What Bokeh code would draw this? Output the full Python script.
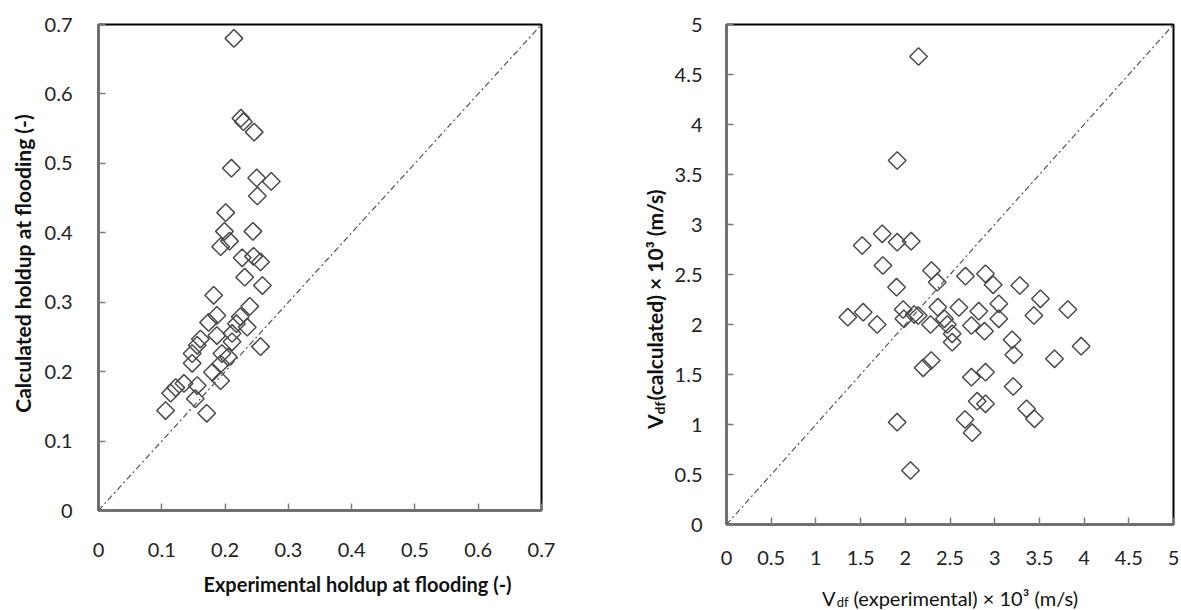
import numpy as np
from bokeh.plotting import figure
from bokeh.models import Range1d, Label, FixedTicker, Slope
from bokeh.layouts import row, column
from bokeh.embed import file_html
from bokeh.resources import INLINE

# ---------------- data ----------------
hold_exp = [0.214, 0.225, 0.229, 0.246, 0.210, 0.250, 0.273, 0.251, 0.201, 0.244,
            0.199, 0.207, 0.193, 0.227, 0.245, 0.256, 0.231, 0.259, 0.182, 0.239,
            0.187, 0.224, 0.174, 0.218, 0.235, 0.187, 0.211, 0.161, 0.256, 0.211,
            0.156, 0.148, 0.148, 0.195, 0.205, 0.193, 0.180, 0.193, 0.135, 0.156,
            0.122, 0.114, 0.153, 0.106, 0.171]
hold_calc = [0.680, 0.565, 0.560, 0.545, 0.493, 0.479, 0.474, 0.453, 0.429, 0.402,
             0.402, 0.388, 0.380, 0.364, 0.366, 0.358, 0.336, 0.324, 0.310, 0.294,
             0.281, 0.279, 0.271, 0.269, 0.264, 0.252, 0.255, 0.247, 0.236, 0.243,
             0.238, 0.226, 0.212, 0.226, 0.221, 0.211, 0.199, 0.187, 0.183, 0.180,
             0.177, 0.169, 0.161, 0.144, 0.140]

vdf_exp = [2.148, 1.909, 1.518, 1.742, 1.909, 2.066, 1.749, 1.902, 2.293, 2.357,
           2.673, 2.897, 2.983, 3.281, 3.512, 3.438, 3.818, 1.357, 1.529, 1.685,
           1.976, 1.984, 2.144, 2.100, 2.282, 2.364, 2.600, 2.438, 2.470, 2.524,
           2.524, 2.740, 2.822, 3.046, 2.886, 3.046, 3.195, 3.214, 3.669, 3.967,
           2.200, 2.290, 2.740, 2.897, 3.207, 2.804, 2.897, 3.356, 3.445, 1.909,
           2.668, 2.748, 2.058]
vdf_calc = [4.680, 3.640, 2.790, 2.907, 2.823, 2.833, 2.590, 2.373, 2.540, 2.423,
            2.483, 2.507, 2.397, 2.390, 2.257, 2.090, 2.150, 2.073, 2.123, 2.000,
            2.150, 2.057, 2.090, 2.100, 2.000, 2.173, 2.170, 2.057, 2.000, 1.907,
            1.823, 1.990, 2.133, 2.207, 1.933, 2.057, 1.847, 1.697, 1.657, 1.783,
            1.567, 1.640, 1.473, 1.523, 1.380, 1.233, 1.207, 1.157, 1.057, 1.023,
            1.050, 0.918, 0.540]

hold_ticks = [0, 0.1, 0.2, 0.3, 0.4, 0.5, 0.6, 0.7]
hold_tick_labels = ["0", "0.1", "0.2", "0.3", "0.4", "0.5", "0.6", "0.7"]
vdf_ticks = [0, 0.5, 1, 1.5, 2, 2.5, 3, 3.5, 4, 4.5, 5]
vdf_tick_labels = ["0", "0.5", "1", "1.5", "2", "2.5", "3", "3.5", "4", "4.5", "5"]

left_x_title = "Experimental holdup at flooding (-)"
left_y_title = "Calculated holdup at flooding (-)"
right_x_title = ["V", "df", "(experimental) \u00d7 10\u00b3 (m/s)"]
right_y_title = ["V", "df", "(calculated) \u00d7 10\u00b3 (m/s)"]

FONT = "Lato"
TICK_COLOR = "#7a7a7a"
MARK_COLOR = "#4a4a4a"
TXT = "#111111"


def style(p, ticks, labels, standoff_x, standoff_y):
    p.grid.visible = False
    p.outline_line_color = "black"
    p.outline_line_width = 2
    p.background_fill_color = "white"
    p.border_fill_color = "white"
    for ax, so in ((p.xaxis[0], standoff_x), (p.yaxis[0], standoff_y)):
        ax.ticker = FixedTicker(ticks=ticks)
        ax.major_label_overrides = {t: l for t, l in zip(ticks, labels)}
        ax.axis_line_color = "#6a6a6a"
        ax.axis_line_width = 2
        ax.major_tick_line_color = TICK_COLOR
        ax.major_tick_line_width = 1.5
        ax.major_tick_in = 7
        ax.major_tick_out = 0
        ax.minor_tick_line_color = None
        ax.major_label_text_font = FONT
        ax.major_label_text_font_size = "20px"
        ax.major_label_text_color = "#222222"
        ax.major_label_standoff = so


def strip(w, h, x0, x1, y_bottom, y_top, top=0, bottom=0):
    """Blank figure whose data coordinates are page pixels (y measured from the top)."""
    f = figure(width=w, height=h, x_range=Range1d(x0, x1), y_range=Range1d(y_bottom, y_top),
               x_axis_type=None, y_axis_type=None, min_border=0,
               min_border_top=top, min_border_bottom=bottom,
               output_backend="svg", toolbar_location=None)
    f.outline_line_color = None
    f.background_fill_color = "white"
    f.border_fill_color = "white"
    return f


def lab(f, x, y, text, size, bold=False, angle=0.0, align="center", baseline="middle"):
    f.add_layout(Label(x=x, y=y, text=text, angle=angle,
                       text_font=FONT, text_font_size=size,
                       text_font_style="bold" if bold else "normal", text_color=TXT,
                       text_align=align, text_baseline=baseline))


# ---------------- left panel (page x 0..590) ----------------
p1 = figure(frame_width=443, frame_height=486, min_border_left=58, min_border_right=49,
            min_border_top=24, min_border_bottom=56,
            x_range=Range1d(0, 0.7), y_range=Range1d(0, 0.7),
            output_backend="svg", toolbar_location=None)
style(p1, hold_ticks, hold_tick_labels, 32, 26)
p1.add_layout(Slope(gradient=1, y_intercept=0, line_color="#555555", line_width=1.2,
                    line_dash="6 3 2 3"))
p1.scatter(hold_exp, hold_calc, marker="square", angle=np.pi / 4, size=12.5,
           fill_alpha=0, line_color=MARK_COLOR, line_width=1.5)

yl = strip(40, 566, 0, 40, 510, 24, top=24, bottom=56)
lab(yl, 22, 263, left_y_title, "21px", bold=True, angle=np.pi / 2)
xl = strip(590, 44, 0, 590, 610, 566)
lab(xl, 357, 583, left_x_title, "20px", bold=True)

# ---------------- right panel (page x 590..1181) ----------------
p2 = figure(frame_width=447, frame_height=500, min_border_left=56, min_border_right=8,
            min_border_top=24, min_border_bottom=56,
            x_range=Range1d(0, 5), y_range=Range1d(0, 5),
            output_backend="svg", toolbar_location=None)
style(p2, vdf_ticks, vdf_tick_labels, 26, 24)
p2.add_layout(Slope(gradient=1, y_intercept=0, line_color="#555555", line_width=1.2,
                    line_dash="6 3 2 3"))
p2.scatter(vdf_exp, vdf_calc, marker="square", angle=np.pi / 4, size=12.5,
           fill_alpha=0, line_color=MARK_COLOR, line_width=1.5)

yr = strip(80, 580, 590, 670, 524, 24, top=24, bottom=56)
JY = 401   # page y where the subscript ends and the main text starts
BX = 654   # page x of the baseline
lab(yr, BX, JY + 13, right_y_title[0], "21px", bold=True, angle=np.pi / 2,
    align="right", baseline="alphabetic")
lab(yr, BX + 5, JY, right_y_title[1], "14px", bold=True, angle=np.pi / 2,
    align="right", baseline="alphabetic")
lab(yr, BX, JY - 1, right_y_title[2], "21px", bold=True, angle=np.pi / 2,
    align="left", baseline="alphabetic")

xr = strip(591, 30, 590, 1181, 610, 580)
J = 848
BASE = 597
lab(xr, J - 13, BASE, right_x_title[0], "20px", align="right", baseline="alphabetic")
lab(xr, J, BASE + 4, right_x_title[1], "13px", align="right", baseline="alphabetic")
lab(xr, J + 5, BASE, right_x_title[2], "20px", align="left", baseline="alphabetic")

layout = row(column(row(yl, p1), xl), column(row(yr, p2), xr))
open("out.html", "w").write(file_html(layout, INLINE))
